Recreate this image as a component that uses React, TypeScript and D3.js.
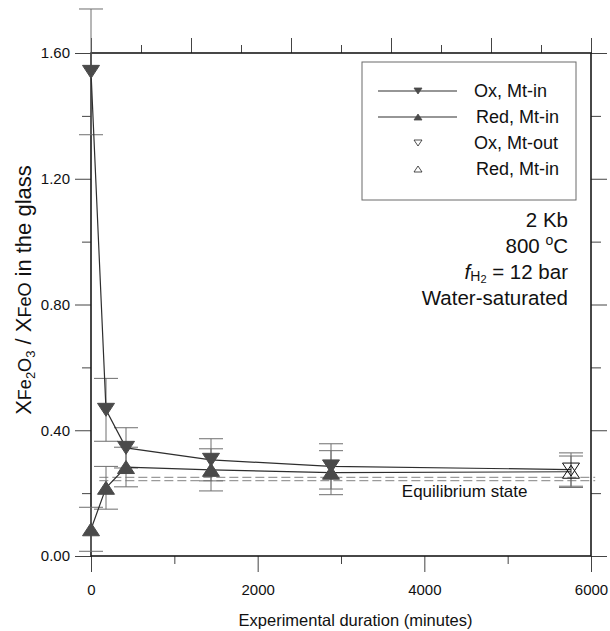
import React, { useEffect, useRef } from "react";
import * as d3 from "d3";

const times = [0, 180, 420, 1440, 2880, 5760];
const oxValues = [1.54, 0.465, 0.344, 0.306, 0.285, 0.275];
const oxErrors = [0.2, 0.1, 0.064, 0.067, 0.072, 0.053];
const redValues = [0.085, 0.217, 0.283, 0.274, 0.265, 0.268];
const redErrors = [0.07, 0.068, 0.063, 0.067, 0.07, 0.05];
// last run is drawn with open symbols
const filledMarker = [true, true, true, true, true, false];

const eqLevels = [0.25, 0.24];
const eqSpan = [100, 6050];

const yMajorTicks = [0, 0.4, 0.8, 1.2, 1.6];
const yMinorTicks = [0.2, 0.6, 1.0, 1.4];
const xMajorTicks = [0, 2000, 4000, 6000];
const xMinorTicks = [1000, 3000, 5000];
const topMajorTicks = [0, 1200, 2400, 3600, 4800, 6000];
const topMinorTicks = [600, 1800, 3000, 4200, 5400];

const legendLabels = ["Ox, Mt-in", "Red, Mt-in", "Ox, Mt-out", "Red, Mt-in"];
const legendKinds = ["downLine", "upLine", "downOpen", "upOpen"];

const W = 610;
const H = 631;
const plot = { left: 91, right: 591, top: 53, bottom: 556 };
const FONT = "'Liberation Sans', Arial, Helvetica, sans-serif";
const MARK = "#4a4a4a";

const tri = (dir: "up" | "down", w: number, h: number) =>
  dir === "down"
    ? `M${-w / 2},${-h / 2}L${w / 2},${-h / 2}L0,${h / 2}Z`
    : `M${-w / 2},${h / 2}L${w / 2},${h / 2}L0,${-h / 2}Z`;

const App: React.FC = () => {
  const ref = useRef<SVGSVGElement | null>(null);

  useEffect(() => {
    if (!ref.current) return;
    const svg = d3.select(ref.current);
    svg.selectAll("*").remove();

    const x = d3.scaleLinear().domain([0, 6000]).range([plot.left, plot.right]);
    const y = d3.scaleLinear().domain([0, 1.6]).range([plot.bottom, plot.top]);

    svg.append("rect").attr("width", W).attr("height", H).attr("fill", "#fff");

    // Axes (ticks only, frame drawn separately)
    const styleAxis = (g: any) => {
      g.select(".domain").remove();
      g.selectAll("line").attr("stroke", "#444").attr("stroke-width", 1);
      g.selectAll("text")
        .attr("fill", "#111")
        .style("font-family", FONT)
        .style("font-size", "15px");
    };

    svg
      .append("g")
      .attr("transform", `translate(${plot.left},0)`)
      .call(d3.axisLeft(y).tickValues(yMajorTicks).tickSize(16).tickPadding(5).tickFormat(d3.format(".2f")) as any)
      .call(styleAxis);
    svg
      .append("g")
      .attr("transform", `translate(${plot.left},0)`)
      .call(d3.axisLeft(y).tickValues(yMinorTicks).tickSize(9).tickFormat(() => "") as any)
      .call(styleAxis);
    svg
      .append("g")
      .attr("transform", `translate(${plot.right},0)`)
      .call(d3.axisRight(y).tickValues(yMajorTicks).tickSize(16).tickFormat(() => "") as any)
      .call(styleAxis);
    svg
      .append("g")
      .attr("transform", `translate(${plot.right},0)`)
      .call(d3.axisRight(y).tickValues(yMinorTicks).tickSize(10).tickFormat(() => "") as any)
      .call(styleAxis);
    svg
      .append("g")
      .attr("transform", `translate(0,${plot.bottom})`)
      .call(d3.axisBottom(x).tickValues(xMajorTicks).tickSize(16).tickPadding(12).tickFormat(d3.format("d")) as any)
      .call(styleAxis);
    svg
      .append("g")
      .attr("transform", `translate(0,${plot.bottom})`)
      .call(d3.axisBottom(x).tickValues(xMinorTicks).tickSize(8).tickFormat(() => "") as any)
      .call(styleAxis);
    svg
      .append("g")
      .attr("transform", `translate(0,${plot.top})`)
      .call(d3.axisTop(x).tickValues(topMajorTicks).tickSize(15).tickFormat(() => "") as any)
      .call(styleAxis);
    svg
      .append("g")
      .attr("transform", `translate(0,${plot.top})`)
      .call(d3.axisTop(x).tickValues(topMinorTicks).tickSize(8).tickFormat(() => "") as any)
      .call(styleAxis);

    // Frame
    svg
      .append("rect")
      .attr("x", plot.left)
      .attr("y", plot.top)
      .attr("width", plot.right - plot.left)
      .attr("height", plot.bottom - plot.top)
      .attr("fill", "none")
      .attr("stroke", "#1a1a1a")
      .attr("stroke-width", 1.6);

    // Equilibrium dashed lines
    svg
      .append("g")
      .selectAll("line")
      .data(eqLevels)
      .enter()
      .append("line")
      .attr("x1", x(eqSpan[0]))
      .attr("x2", x(eqSpan[1]))
      .attr("y1", (d) => y(d))
      .attr("y2", (d) => y(d))
      .attr("stroke", "#9a9a9a")
      .attr("stroke-width", 1.3)
      .attr("stroke-dasharray", "9,4");

    svg
      .append("text")
      .attr("x", x(3730))
      .attr("y", y(0.24) + 16)
      .style("font-family", FONT)
      .style("font-size", "17px")
      .attr("fill", "#111")
      .text("Equilibrium state");

    const series = [
      { values: oxValues, errors: oxErrors, dir: "down" as const },
      { values: redValues, errors: redErrors, dir: "up" as const },
    ];

    // Error bars
    series.forEach((s) => {
      const eb = svg.append("g").attr("stroke", "#6e6e6e").attr("stroke-width", 1);
      times.forEach((t, i) => {
        const cx = x(t);
        const lo = y(s.values[i] - s.errors[i]);
        const hi = y(s.values[i] + s.errors[i]);
        eb.append("line").attr("x1", cx).attr("x2", cx).attr("y1", lo).attr("y2", hi);
        [lo, hi].forEach((yy) =>
          eb.append("line").attr("x1", cx - 12).attr("x2", cx + 12).attr("y1", yy).attr("y2", yy)
        );
      });
    });

    // Connecting lines
    const line = d3
      .line<number>()
      .x((_, i) => x(times[i]))
      .y((d) => y(d));
    series.forEach((s) => {
      svg
        .append("path")
        .attr("d", line(s.values))
        .attr("fill", "none")
        .attr("stroke", "#2e2e2e")
        .attr("stroke-width", 1.2);
    });

    // Markers
    series.forEach((s) => {
      svg
        .append("g")
        .selectAll("path")
        .data(s.values)
        .enter()
        .append("path")
        .attr("transform", (d, i) => `translate(${x(times[i])},${y(d)})`)
        .attr("d", tri(s.dir, 17, 13))
        .attr("fill", (_, i) => (filledMarker[i] ? MARK : "none"))
        .attr("stroke", (_, i) => (filledMarker[i] ? MARK : "#111"))
        .attr("stroke-width", 1);
    });

    // Legend
    const lg = svg.append("g");
    lg.append("rect")
      .attr("x", 362)
      .attr("y", 62)
      .attr("width", 214)
      .attr("height", 138)
      .attr("fill", "#fff")
      .attr("stroke", "#6a6a6a")
      .attr("stroke-width", 1);
    legendLabels.forEach((label, i) => {
      const ly = 91 + i * 26;
      const kind = legendKinds[i];
      const dir = kind.startsWith("down") ? "down" : "up";
      if (kind.endsWith("Line")) {
        lg.append("line")
          .attr("x1", 378)
          .attr("x2", 457)
          .attr("y1", ly)
          .attr("y2", ly)
          .attr("stroke", "#2e2e2e")
          .attr("stroke-width", 1.1);
      }
      const open = kind.endsWith("Open");
      lg.append("path")
        .attr("transform", `translate(418,${ly})`)
        .attr("d", tri(dir, 8, 6))
        .attr("fill", open ? "none" : MARK)
        .attr("stroke", open ? "#222" : MARK)
        .attr("stroke-width", 0.8);
      lg.append("text")
        .attr("x", i % 2 === 0 ? 474 : 476)
        .attr("y", ly + 6)
        .style("font-family", FONT)
        .style("font-size", "18px")
        .attr("fill", "#111")
        .text(label);
    });

    // Conditions
    const cond = svg
      .append("g")
      .style("font-family", FONT)
      .style("font-size", "20.5px")
      .attr("fill", "#111")
      .attr("text-anchor", "end");
    cond.append("text").attr("x", 568).attr("y", 227).text("2 Kb");
    const t800 = cond.append("text").attr("x", 568).attr("y", 253);
    t800.append("tspan").text("800 ");
    t800.append("tspan").attr("dy", -8).style("font-size", "14px").text("o");
    t800.append("tspan").attr("dy", 8).text("C");
    const tf = cond.append("text").attr("x", 568).attr("y", 279);
    tf.append("tspan").style("font-style", "italic").text("f");
    tf.append("tspan").attr("dy", 2).style("font-size", "14px").text("H");
    tf.append("tspan").attr("dy", 2).style("font-size", "11px").text("2");
    tf.append("tspan").attr("dy", -4).text(" = 12 bar");
    cond.append("text").attr("x", 568).attr("y", 305).text("Water-saturated");

    // X axis title
    svg
      .append("text")
      .attr("x", (238 + 473) / 2)
      .attr("y", 626)
      .attr("text-anchor", "middle")
      .style("font-family", FONT)
      .style("font-size", "16.5px")
      .attr("fill", "#111")
      .text("Experimental duration (minutes)");

    // Y axis title
    const yt = svg
      .append("text")
      .attr("transform", "translate(31,290) rotate(-90)")
      .attr("text-anchor", "middle")
      .style("font-family", FONT)
      .style("font-size", "22px")
      .attr("fill", "#111");
    yt.append("tspan").text("X");
    yt.append("tspan").style("font-size", "18px").text("Fe");
    yt.append("tspan").attr("dy", 4).style("font-size", "13px").text("2");
    yt.append("tspan").attr("dy", -4).style("font-size", "18px").text("O");
    yt.append("tspan").attr("dy", 4).style("font-size", "13px").text("3");
    yt.append("tspan").attr("dy", -4).text(" / X");
    yt.append("tspan").style("font-size", "18px").text("FeO");
    yt.append("tspan").text(" in the glass");
  }, []);

  return (
    <svg
      ref={ref}
      width={W}
      height={H}
      style={{ position: "absolute", left: 0, top: 0, display: "block" }}
    />
  );
};

export default App;
